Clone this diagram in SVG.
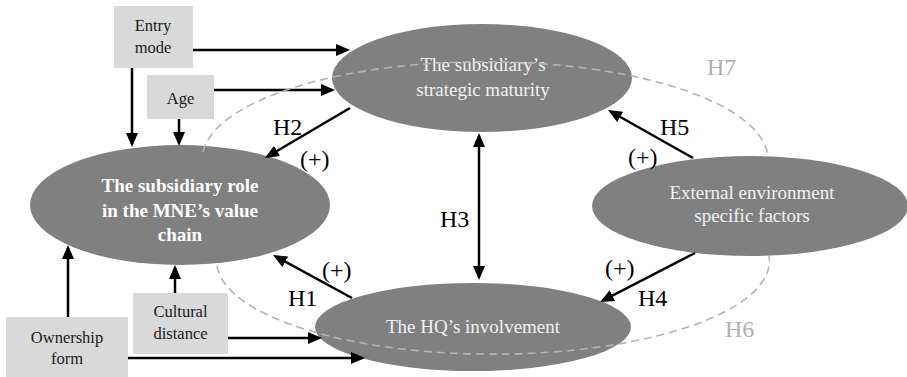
<svg xmlns="http://www.w3.org/2000/svg" width="907" height="377" viewBox="0 0 907 377">
<defs>
<style>
.box{fill:#d9d9d9;}
.ell{fill:#808080;}
.bt{font-family:"Liberation Serif","Times New Roman",serif;font-size:16.5px;fill:#1a1a1a;text-anchor:middle;}
.et{font-family:"Liberation Serif","Times New Roman",serif;font-size:19px;fill:#f2f2f2;text-anchor:middle;}
.mt{font-family:"Liberation Serif","Times New Roman",serif;font-size:19px;font-weight:bold;fill:#ffffff;text-anchor:middle;}
.hl{font-family:"Liberation Serif","Times New Roman",serif;font-size:24px;fill:#000;}
.gl{font-family:"Liberation Serif","Times New Roman",serif;font-size:24px;fill:#b0b0b0;}
.ar{stroke:#000;stroke-width:2.5;fill:none;marker-end:url(#ah);}
.dash{stroke:#b3b3b3;stroke-width:1.6;fill:none;stroke-dasharray:8 5;}
</style>
<marker id="ah" viewBox="0 0 14 12" refX="11" refY="6" markerWidth="14" markerHeight="12" markerUnits="userSpaceOnUse" orient="auto-start-reverse">
<path d="M0,0 L14,6 L0,12 z" fill="#000"/>
</marker>
</defs>

<g id="node-entry">
<rect class="box" x="114" y="6" width="79" height="62"/>
<text class="bt" x="153" y="31">Entry</text>
<text class="bt" x="153" y="53">mode</text>
</g>
<g id="node-age">
<rect class="box" x="147" y="75" width="67" height="44"/>
<text class="bt" x="180.5" y="104">Age</text>
</g>
<g id="node-cultural">
<rect class="box" x="133" y="293" width="95" height="61"/>
<text class="bt" x="180.5" y="317">Cultural</text>
<text class="bt" x="180.5" y="339">distance</text>
</g>
<g id="node-ownership">
<rect class="box" x="6" y="317" width="122" height="60"/>
<text class="bt" x="67" y="343">Ownership</text>
<text class="bt" x="67" y="364">form</text>
</g>

<g id="node-role">
<ellipse class="ell" cx="180" cy="205" rx="150" ry="60"/>
<text class="mt" x="180" y="192">The subsidiary role</text>
<text class="mt" x="180" y="217">in the MNE’s value</text>
<text class="mt" x="180" y="241">chain</text>
</g>
<g id="node-maturity">
<ellipse class="ell" cx="482" cy="78" rx="150" ry="54"/>
<text class="et" x="483" y="71">The subsidiary’s</text>
<text class="et" x="483" y="96">strategic maturity</text>
</g>
<g id="node-hq">
<ellipse class="ell" cx="473" cy="327" rx="158" ry="44"/>
<text class="et" x="473" y="333">The HQ’s involvement</text>
</g>
<g id="node-external">
<ellipse class="ell" cx="750" cy="206" rx="158" ry="50"/>
<text class="et" x="752" y="199">External environment</text>
<text class="et" x="752" y="222">specific factors</text>
</g>

<g id="connectors">
<line class="ar" x1="193" y1="50" x2="347" y2="50"/>
<line class="ar" x1="132" y1="68" x2="132" y2="144"/>
<line class="ar" x1="214" y1="90" x2="332" y2="90"/>
<line class="ar" x1="179" y1="119" x2="179" y2="143"/>
<line class="ar" x1="68" y1="317" x2="68" y2="248"/>
<line class="ar" x1="175" y1="293" x2="175" y2="268"/>
<line class="ar" x1="228" y1="338" x2="319" y2="338"/>
<line class="ar" x1="128" y1="358" x2="362" y2="358"/>
<line class="ar" x1="350" y1="108" x2="267.6" y2="156.5"/>
<line class="ar" x1="352" y1="298" x2="275.6" y2="256.4"/>
<line class="ar" x1="695" y1="253" x2="602.7" y2="300.6"/>
<line class="ar" x1="693" y1="158" x2="610.6" y2="111.5"/>
<line class="ar" style="marker-start:url(#ah)" x1="479" y1="136" x2="479" y2="277"/>
<path class="dash" d="M 203 152 A 283 98 0 0 1 768 157"/>
<path class="dash" d="M 217 266 A 276 93 0 0 0 769 256"/>
<text class="hl" x="273" y="135">H2</text>
<text class="hl" x="300" y="167">(+)</text>
<text class="hl" x="440" y="227">H3</text>
<text class="hl" x="288" y="306">H1</text>
<text class="hl" x="322" y="278">(+)</text>
<text class="hl" x="638" y="306">H4</text>
<text class="hl" x="605" y="276">(+)</text>
<text class="hl" x="660" y="135">H5</text>
<text class="hl" x="628" y="165">(+)</text>
<text class="gl" x="707" y="75">H7</text>
<text class="gl" x="725" y="337">H6</text>
</g>
</svg>
